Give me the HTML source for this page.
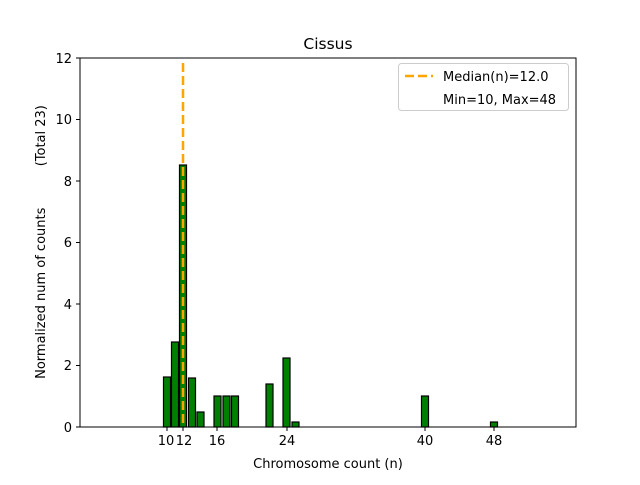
<!DOCTYPE html><html><head><style>body{margin:0;background:#fff}</style></head><body>
<svg width="640" height="480" xmlns="http://www.w3.org/2000/svg" font-family="DejaVu Sans, sans-serif" font-size="13">
<rect width="640" height="480" fill="#fff"/>
<g fill="green" stroke="#000" stroke-width="1.2">
<rect x="163.5" y="377" width="7" height="50"/>
<rect x="171.5" y="342" width="7" height="85"/>
<rect x="179.5" y="165" width="7" height="262"/>
<rect x="188.5" y="378" width="7" height="49"/>
<rect x="197" y="412" width="7" height="15"/>
<rect x="214" y="396" width="7" height="31"/>
<rect x="223" y="396" width="7" height="31"/>
<rect x="231.5" y="396" width="7" height="31"/>
<rect x="266" y="384" width="7" height="43"/>
<rect x="283" y="358" width="7" height="69"/>
<rect x="292" y="422" width="7" height="5"/>
<rect x="421.5" y="396" width="7" height="31"/>
<rect x="490.5" y="422" width="7" height="5"/>
</g>
<line x1="183" y1="63" x2="183" y2="427" stroke="orange" stroke-width="2.5" stroke-dasharray="9,4"/>
<rect x="80" y="58" width="496" height="369" fill="none" stroke="#000" stroke-width="1"/>
<g stroke="#000">
<line x1="167" y1="427" x2="167" y2="431"/><line x1="183" y1="427" x2="183" y2="431"/>
<line x1="217" y1="427" x2="217" y2="431"/><line x1="287" y1="427" x2="287" y2="431"/>
<line x1="425" y1="427" x2="425" y2="431"/><line x1="494" y1="427" x2="494" y2="431"/>
<line x1="76" y1="427" x2="80" y2="427"/><line x1="76" y1="365.5" x2="80" y2="365.5"/>
<line x1="76" y1="304" x2="80" y2="304"/><line x1="76" y1="242.5" x2="80" y2="242.5"/>
<line x1="76" y1="181" x2="80" y2="181"/><line x1="76" y1="119.5" x2="80" y2="119.5"/>
<line x1="76" y1="58" x2="80" y2="58"/>
</g>
<g text-anchor="middle">
<text x="166" y="445">10</text><text x="184" y="445">12</text><text x="217" y="445">16</text>
<text x="287" y="445">24</text><text x="425" y="445">40</text><text x="494" y="445">48</text>
<text x="328" y="468">Chromosome count (n)</text>
<text x="328" y="49" font-size="15.5">Cissus</text>
</g>
<g text-anchor="end">
<text x="72" y="432">0</text><text x="72" y="370">2</text><text x="72" y="309">4</text>
<text x="72" y="247">6</text><text x="72" y="186">8</text><text x="72" y="124">10</text><text x="72" y="63">12</text>
</g>
<text transform="translate(45,242) rotate(-90)" text-anchor="middle" xml:space="preserve" style="white-space:pre">Normalized num of counts          (Total 23)</text>
<rect x="398.5" y="63.5" width="170" height="47" rx="3" fill="#fff" stroke="#ccc"/>
<line x1="405" y1="76" x2="433" y2="76" stroke="orange" stroke-width="2.5" stroke-dasharray="9,4"/>
<text x="443" y="81">Median(n)=12.0</text>
<text x="443" y="104">Min=10, Max=48</text>
</svg>
</body></html>
